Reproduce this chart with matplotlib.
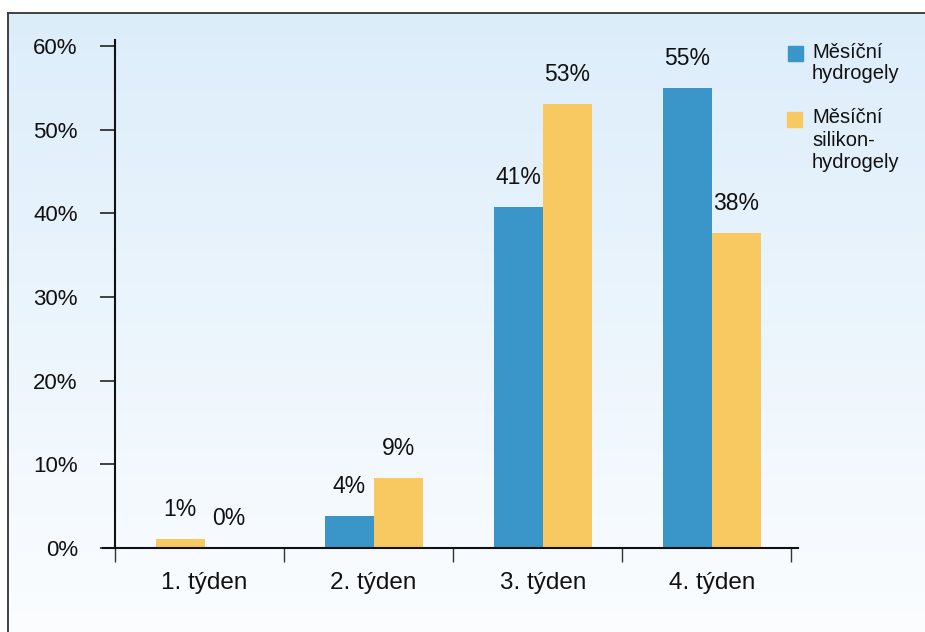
import numpy as np
import matplotlib
matplotlib.use("Agg")
import matplotlib.pyplot as plt
from matplotlib.colors import LinearSegmentedColormap
from matplotlib.patches import Rectangle

plt.rcParams['font.family'] = ['Liberation Sans', 'DejaVu Sans']

# data
weeks = ["1. týden", "2. týden", "3. týden", "4. týden"]
hydro = [0.0, 3.8, 40.8, 55.0]        # Měsíční hydrogely
silikon = [1.1, 8.4, 53.1, 37.6]      # Měsíční silikon-hydrogely
hydro_lbl = ["0%", "4%", "41%", "55%"]
silikon_lbl = ["1%", "9%", "53%", "38%"]
swap = [True, False, False, False]    # week 1 has the bars the other way round
yticks = [0, 10, 20, 30, 40, 50, 60]

blue = "#3a96c9"
yellow = "#f9c961"
txt = "#111111"

fig = plt.figure(figsize=(9.25, 6.32), dpi=100)

# background with gradient and frame
bg = fig.add_axes([8/925, 0, 1.05, (632-13)/632])
cmap = LinearSegmentedColormap.from_list("bg", ["#fbfdff", "#dcedfa"])
bg.imshow(np.linspace(0, 1, 256).reshape(-1, 1), aspect="auto", cmap=cmap,
          extent=[0, 1, 0, 1], origin="lower")
bg.set_xlim(0, 1)
bg.set_ylim(0, 1)
bg.set_xticks([])
bg.set_yticks([])
for s in ["right", "bottom"]:
    bg.spines[s].set_visible(False)
for s in ["left", "top"]:
    bg.spines[s].set_color("#333333")
    bg.spines[s].set_linewidth(1.3)

ax = fig.add_axes([115/925, 84/632, 683/925, 508/632])
ax.patch.set_alpha(0)

x = np.arange(len(weeks))
shift = 0.03
w = 0.29
pos_h = x + shift + np.where(swap, w/2, -w/2)
pos_s = x + shift + np.where(swap, -w/2, w/2)
ax.bar(pos_h, hydro, w, color=blue)
ax.bar(pos_s, silikon, w, color=yellow)

for xp, v, t in zip(pos_h, hydro, hydro_lbl):
    ax.annotate(t, (xp, v), xytext=(0, 16.5), textcoords="offset points",
                ha="center", va="baseline", fontsize=16.5, color=txt)
for xp, v, t in zip(pos_s, silikon, silikon_lbl):
    ax.annotate(t, (xp, v), xytext=(0, 16.5), textcoords="offset points",
                ha="center", va="baseline", fontsize=16.5, color=txt)

ax.set_xlim(-0.5, 3.54)
ax.set_ylim(0, 60.7)

ax.set_yticks(yticks)
ax.set_yticklabels([f"{v}%" for v in yticks], fontsize=16, color=txt)
ax.tick_params(axis="y", length=10.8, width=1.1, color=txt, pad=16)

ax.set_xticks(np.arange(len(weeks) + 1) - 0.5)
ax.set_xticklabels([])
ax.tick_params(axis="x", which="major", length=10, width=1.0, color="#333333")
ax.set_xticks(x + shift, minor=True)
ax.set_xticklabels(weeks, minor=True, fontsize=17.5, color=txt)
ax.tick_params(axis="x", which="minor", length=0, pad=17)

for s in ["top", "right"]:
    ax.spines[s].set_visible(False)
ax.spines["left"].set_linewidth(1.5)
ax.spines["left"].set_color(txt)
ax.spines["bottom"].set_linewidth(1.5)
ax.spines["bottom"].set_color(txt)
ax.spines["bottom"].set_bounds(-0.571, 3.54)

# legend drawn by hand so the squares line up with the first text line
fig.add_artist(Rectangle((788/925, 1 - 61/632), 15/925, 15/632,
                         transform=fig.transFigure, color=blue))
fig.add_artist(Rectangle((787/925, 1 - 127/632), 15/925, 15/632,
                         transform=fig.transFigure, color=yellow))
fig.text(812/925, 1 - 43/632, "Měsíční\nhydrogely", va="top", ha="left",
         fontsize=14.5, color=txt, linespacing=1.15)
fig.text(812/925, 1 - 108/632, "Měsíční\nsilikon-\nhydrogely", va="top",
         ha="left", fontsize=14.5, color=txt, linespacing=1.24)

fig.savefig("out.png", dpi=100)
